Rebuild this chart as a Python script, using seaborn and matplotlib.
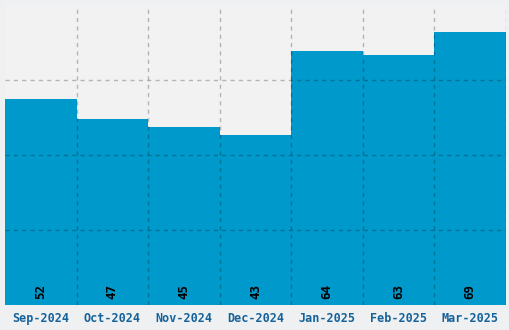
import matplotlib
matplotlib.use("Agg")
import matplotlib.pyplot as plt
import seaborn as sns
import numpy as np
import pandas as pd

months = ["Sep-2024", "Oct-2024", "Nov-2024", "Dec-2024", "Jan-2025", "Feb-2025", "Mar-2025"]
values = [52, 47, 45, 43, 64, 63, 69]

sns.set_style("white")
plt.rcParams['font.family'] = ['DejaVu Sans Mono', 'DejaVu Sans']

fig = plt.figure(figsize=(5.1, 3.3), dpi=100, facecolor="#eef0f1")
ax = fig.add_axes([5/510, 25/330, 501/510, 300/330])
ax.set_facecolor("#f2f2f2")

df = pd.DataFrame({"month": months, "value": values})
sns.barplot(data=df, x="month", y="value", color="#0099cc", saturation=1, width=1.0,
            linewidth=0, edgecolor="none", ax=ax, zorder=2)

ymax = 75.7
ax.set_ylim(0, ymax)
ax.set_xlim(-0.5, len(months) - 0.5)
ax.set_yticks(np.linspace(0, ymax, 5)[1:-1])
ax.set_yticklabels([])
ax.set_xticks(np.arange(len(months)) + 0.5, minor=True)
ax.grid(False)
ax.grid(True, which="minor", axis="x", color="black", alpha=0.25, linestyle=(0, (3, 3)), linewidth=1, zorder=3)
ax.grid(True, which="major", axis="y", color="black", alpha=0.25, linestyle=(0, (3, 3)), linewidth=1, zorder=3)
ax.set_axisbelow(False)
ax.tick_params(axis="both", which="both", length=0)
ax.tick_params(axis="x", which="major", labelsize=8.5, labelcolor="#15629a", pad=5)
for lbl in ax.get_xticklabels():
    lbl.set_fontweight("bold")
ax.set_xlabel("")
ax.set_ylabel("")
for s in ax.spines.values():
    s.set_visible(False)

for i, v in enumerate(values):
    ax.text(i, 1.5, str(v), rotation=90, ha="center", va="bottom", fontsize=9,
            fontweight="bold", color="black", zorder=4)

fig.savefig("out.png", dpi=100, facecolor=fig.get_facecolor())
